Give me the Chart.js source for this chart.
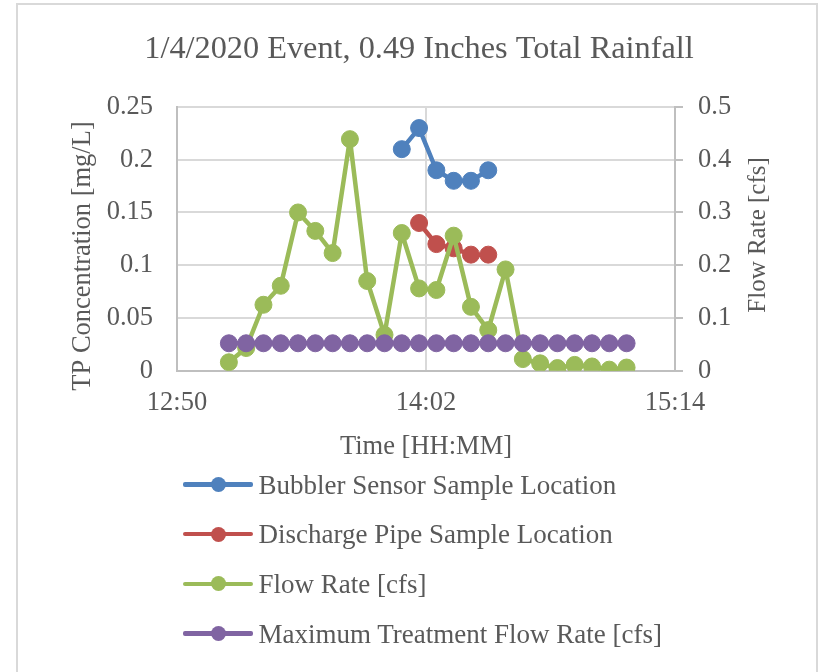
<!DOCTYPE html>
<html><head><meta charset="utf-8">
<script src="https://cdn.jsdelivr.net/npm/chart.js@4.4.1/dist/chart.umd.min.js"></script>
<style>
html,body{margin:0;padding:0;background:#fff;}
#wrap{position:relative;width:819px;height:672px;overflow:hidden;background:#fff;}
#frame{position:absolute;left:16px;top:3px;width:802px;height:720px;border:2px solid #d9d9d9;box-sizing:border-box;pointer-events:none;}
canvas{position:absolute;left:0;top:0;}
#legend{position:absolute;left:0;top:0;width:819px;height:672px;pointer-events:none;font-family:'Liberation Serif','Times New Roman',serif;color:#595959;font-size:27px;}
.item{position:absolute;left:183px;height:30px;line-height:30px;display:flex;align-items:center;white-space:nowrap;}
.mk{position:relative;width:70px;height:30px;margin-right:5.5px;flex:none;}
.mk .ln{position:absolute;left:0;top:12.75px;width:70px;height:4.5px;border-radius:2px;}
.mk .dt{position:absolute;left:27.5px;top:7.5px;width:15px;height:15px;border-radius:50%;}
</style></head><body>
<div id="wrap"><canvas id="c" width="819" height="672"></canvas><div id="frame"></div><div id="legend"></div></div>
<script>
// ---- text ----
const chartTitle = "1/4/2020 Event, 0.49 Inches Total Rainfall";
const xAxisTitle = "Time [HH:MM]";
const leftAxisTitle = "TP Concentration [mg/L]";
const rightAxisTitle = "Flow Rate [cfs]";
const seriesNames = ["Bubbler Sensor Sample Location", "Discharge Pipe Sample Location", "Flow Rate [cfs]", "Maximum Treatment Flow Rate [cfs]"];

// ---- tick labels ----
const xTickLabels = ["12:50", "14:02", "15:14"];
const yTickValues = [0, 0.05, 0.1, 0.15, 0.2, 0.25];
const yTickLabels = ["0", "0.05", "0.1", "0.15", "0.2", "0.25"];
const y1TickValues = [0, 0.1, 0.2, 0.3, 0.4, 0.5];
const y1TickLabels = ["0", "0.1", "0.2", "0.3", "0.4", "0.5"];

// ---- data ----
const bubblerTimes = ["13:55", "14:00", "14:05", "14:10", "14:15", "14:20"];
const bubblerTP = [0.21, 0.23, 0.19, 0.18, 0.18, 0.19];
const dischargeTimes = ["14:00", "14:05", "14:10", "14:15", "14:20"];
const dischargeTP = [0.14, 0.12, 0.116, 0.11, 0.11];
const flowTimes = ["13:05", "13:10", "13:15", "13:20", "13:25", "13:30", "13:35", "13:40", "13:45", "13:50", "13:55", "14:00",
                   "14:05", "14:10", "14:15", "14:20", "14:25", "14:30", "14:35", "14:40", "14:45", "14:50", "14:55", "15:00"];
const flowRate = [0.016, 0.043, 0.125, 0.161, 0.300, 0.265, 0.223, 0.439, 0.170, 0.068, 0.261, 0.156,
                  0.153, 0.256, 0.121, 0.077, 0.192, 0.022, 0.014, 0.005, 0.011, 0.008, 0.002, 0.006];
const maxTreatmentFlow = [0.052, 0.052, 0.052, 0.052, 0.052, 0.052, 0.052, 0.052, 0.052, 0.052, 0.052, 0.052,
                          0.052, 0.052, 0.052, 0.052, 0.052, 0.052, 0.052, 0.052, 0.052, 0.052, 0.052, 0.052];

// ---- styles ----
const seriesColors = ["#4F81BD", "#C0504D", "#9BBB59", "#8064A2"];
const textColor = "#595959";
const serif = "'Liberation Serif', 'Times New Roman', serif";

function toMin(s) { const p = s.split(':'); return Number(p[0]) * 60 + Number(p[1]); }
function pts(times, vals) { return times.map((t, i) => ({ x: toMin(t), y: vals[i] })); }

function ds(i, times, vals, axis, order) {
  return {
    label: seriesNames[i], data: pts(times, vals), yAxisID: axis, order: order,
    borderColor: seriesColors[i], backgroundColor: seriesColors[i],
    pointBackgroundColor: seriesColors[i], pointBorderColor: seriesColors[i]
  };
}

const axisTitlePlugin = {
  id: 'axisTitles',
  afterDraw(chart) {
    const { ctx, chartArea } = chart;
    const draw = (text, x, y, size) => {
      ctx.save();
      ctx.font = size + "px " + serif;
      ctx.fillStyle = textColor;
      ctx.textAlign = 'center';
      ctx.textBaseline = 'middle';
      ctx.translate(x, y);
      ctx.rotate(-Math.PI / 2);
      ctx.fillText(text, 0, 0);
      ctx.restore();
    };
    draw(leftAxisTitle, chartArea.left - 94, chartArea.top + 149, 26.5);
    draw(rightAxisTitle, chartArea.right + 83, chartArea.top + 128, 25);
  }
};

const tickFont = { family: serif, size: 26.5 };

const chart = new Chart(document.getElementById('c'), {
  type: 'line',
  data: {
    datasets: [
      ds(0, bubblerTimes, bubblerTP, 'y', 4),
      ds(1, dischargeTimes, dischargeTP, 'y', 3),
      ds(2, flowTimes, flowRate, 'y1', 2),
      ds(3, flowTimes, maxTreatmentFlow, 'y1', 1)
    ]
  },
  options: {
    responsive: false, animation: false, devicePixelRatio: 1,
    layout: { padding: { left: 19, right: 0, top: 0, bottom: 201.3 } },
    elements: {
      line: { borderWidth: 4.5, tension: 0, fill: false, borderJoinStyle: 'round', borderCapStyle: 'round' },
      point: { radius: 8.5, hoverRadius: 8.5, borderWidth: 1 }
    },
    plugins: {
      legend: { display: false },
      tooltip: { enabled: false },
      title: {
        display: true, text: chartTitle, color: textColor,
        font: { family: serif, size: 32.3, weight: 'normal' },
        padding: { top: 30.6, bottom: 37.6 }
      }
    },
    scales: {
      x: {
        type: 'linear', position: 'bottom',
        min: toMin(xTickLabels[0]), max: toMin(xTickLabels[xTickLabels.length - 1]),
        afterBuildTicks: s => { s.ticks = xTickLabels.map(l => ({ value: toMin(l) })); },
        ticks: { callback: (v, i) => xTickLabels[i], color: textColor, font: tickFont, padding: 16, autoSkip: false, maxRotation: 0 },
        grid: { color: c => c.index === 1 ? '#d9d9d9' : 'rgba(0,0,0,0)', lineWidth: 2, drawTicks: false },
        border: { color: '#bfbfbf', width: 2 },
        title: { display: true, text: xAxisTitle, color: textColor, font: { family: serif, size: 26.5 }, padding: { top: 0, bottom: 7.8 } },
        afterFit: s => { s.height = 100; }
      },
      y: {
        position: 'left', min: 0, max: 0.25,
        afterBuildTicks: s => { s.ticks = yTickValues.map(v => ({ value: v })); },
        ticks: { callback: (v, i) => yTickLabels[i], color: textColor, font: tickFont, padding: 24 },
        grid: { color: c => c.index === 0 ? 'rgba(0,0,0,0)' : '#d9d9d9', lineWidth: 2, drawTicks: false },
        border: { color: '#bfbfbf', width: 2 },
        afterFit: s => { s.width = 158; }
      },
      y1: {
        position: 'right', min: 0, max: 0.5,
        afterBuildTicks: s => { s.ticks = y1TickValues.map(v => ({ value: v })); },
        ticks: { callback: (v, i) => y1TickLabels[i], color: textColor, font: tickFont, padding: 15 },
        grid: { drawOnChartArea: false, drawTicks: true, tickLength: 8, color: '#bfbfbf', lineWidth: 2 },
        border: { color: '#bfbfbf', width: 2 },
        afterFit: s => { s.width = 144; }
      }
    }
  },
  plugins: [axisTitlePlugin]
});

// ---- HTML legend built from the chart's datasets ----
const legendTop = 469.5, legendGap = 49.7;
const legendEl = document.getElementById('legend');
chart.data.datasets.forEach((d, i) => {
  const item = document.createElement('div');
  item.className = 'item';
  item.style.top = (legendTop + i * legendGap) + 'px';
  const mk = document.createElement('div');
  mk.className = 'mk';
  const ln = document.createElement('div'); ln.className = 'ln'; ln.style.background = d.borderColor;
  const dt = document.createElement('div'); dt.className = 'dt'; dt.style.background = d.borderColor;
  mk.appendChild(ln); mk.appendChild(dt);
  const tx = document.createElement('span'); tx.textContent = d.label;
  item.appendChild(mk); item.appendChild(tx);
  legendEl.appendChild(item);
});
</script>
</body></html>
